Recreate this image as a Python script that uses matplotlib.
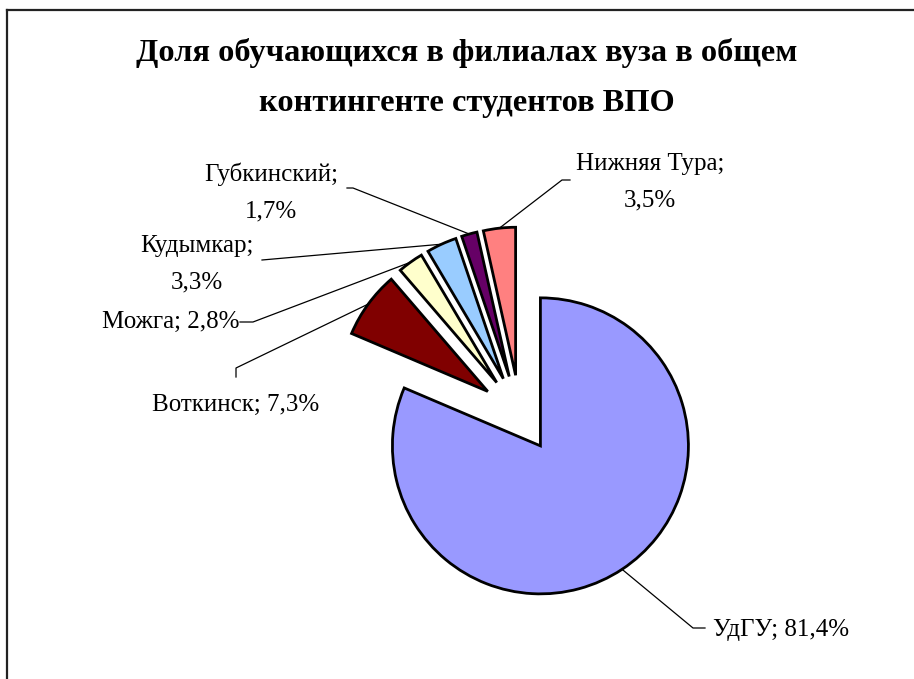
import numpy as np
import matplotlib
matplotlib.use("Agg")
import matplotlib.pyplot as plt
from matplotlib.lines import Line2D

# data
names = ['УдГУ', 'Воткинск', 'Можга', 'Кудымкар', 'Губкинский', 'Нижняя Тура']
shares = [81.4, 7.3, 2.8, 3.3, 1.7, 3.5]
colors = ['#9999FF', '#800000', '#FFFFCC', '#99CCFF', '#660066', '#FF8080']
explode = [0.25, 0.27, 0.27, 0.27, 0.27, 0.27]   # fraction of radius
title = 'Доля обучающихся в филиалах вуза в общем\nконтингенте студентов ВПО'

# label layout in pixel coords: text position, alignment, line break, leader path
label_pos = [(713, 630), (236, 405), (171, 322), (197, 264), (271, 192), (650, 182)]
label_ha = ['left', 'center', 'center', 'center', 'center', 'center']
label_wrap = [False, False, False, True, True, True]
leader_knee = [[(705, 628), (693, 628)],
               [(236, 377), (236, 368)],
               [(240, 322), (253, 322)],
               [(262, 260)],
               [(347, 188), (353, 188)],
               [(570, 180), (562, 180)]]

W, H = 914, 679
R = 148
plt.rcParams['font.family'] = ['Liberation Serif', 'DejaVu Serif']

fig = plt.figure(figsize=(W / 100, H / 100), dpi=100)
ax = fig.add_axes([0, 0, 1, 1])

wedges, _ = ax.pie(shares, colors=colors, explode=[e * R for e in explode],
                   startangle=-90, counterclock=True, radius=R, center=(520, 415),
                   wedgeprops=dict(edgecolor='black', linewidth=2))
ax.set_xlim(0, W)
ax.set_ylim(H, 0)
ax.set_aspect('equal')
ax.axis('off')

for i, w in enumerate(wedges):
    mid = np.deg2rad((w.theta1 + w.theta2) / 2)
    cx, cy = w.center
    px, py = cx + w.r * np.cos(mid), cy + w.r * np.sin(mid)
    pts = leader_knee[i] + [(px, py)]
    ax.plot([p[0] for p in pts], [p[1] for p in pts], color='black', lw=0.9)
    val = f'{shares[i]:.1f}%'.replace('.', ',')
    sep = '\n' if label_wrap[i] else ' '
    ax.text(label_pos[i][0], label_pos[i][1], f'{names[i]};{sep}{val}',
            ha=label_ha[i], va='center', fontsize=18, linespacing=1.85,
            multialignment='center')

ax.text(467, 78, title, ha='center', va='center', fontsize=23.3,
        fontweight='bold', linespacing=1.95)

# chart border (only top and left visible)
fig.add_artist(Line2D([7.5 / W, 7.5 / W], [0, 1 - 10 / H], color='#222222', lw=1.6))
fig.add_artist(Line2D([7.5 / W, 1], [1 - 10 / H, 1 - 10 / H], color='#222222', lw=1.6))

fig.savefig('out.png', dpi=100, facecolor='white')
